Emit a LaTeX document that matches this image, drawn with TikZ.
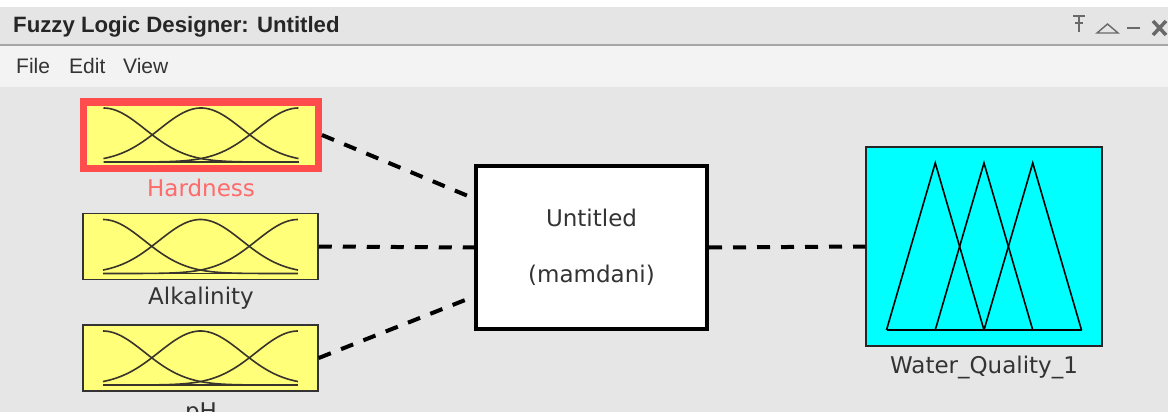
\documentclass[tikz,border=0pt]{standalone}
\usepackage{fontspec}
\setmainfont{DejaVu Sans}
\newfontfamily\uifont{Liberation Sans}
\usetikzlibrary{positioning}
\definecolor{barbg}{RGB}{229,229,229}
\definecolor{menubg}{RGB}{243,243,243}
\definecolor{panelbg}{RGB}{230,230,230}
\definecolor{mfyellow}{RGB}{255,255,122}
\definecolor{mfcyan}{RGB}{0,255,255}
\definecolor{selred}{RGB}{255,77,77}
\definecolor{sellab}{RGB}{255,106,106}
\definecolor{txtgray}{RGB}{51,51,51}
\definecolor{icongray}{RGB}{105,105,105}
\tikzset{
  inbox/.style={rectangle,fill=mfyellow,draw=black!80,line width=1.5pt,
    minimum width=235pt,minimum height=66pt,inner sep=0pt},
  selected/.style={draw=selred,line width=7pt},
  sysbox/.style={rectangle,fill=white,draw=black,line width=4pt,
    minimum width=231pt,minimum height=163pt,align=center,inner sep=0pt,
    font=\fontsize{23}{56}\selectfont,text=txtgray},
  outbox/.style={rectangle,fill=mfcyan,draw=black!85,line width=1.5pt,
    minimum width=236pt,minimum height=199pt,inner sep=0pt},
  varlab/.style={font=\fontsize{23}{27}\selectfont,text=txtgray,
    anchor=base,inner sep=0pt},
  menulab/.style={font=\uifont\fontsize{21}{25}\selectfont,text=txtgray,
    anchor=base west,inner sep=0pt},
  conn/.style={line width=4pt,dash pattern=on 13pt off 11pt},
  mf/.style={line width=1.6pt,draw=black!80!olive},
  icon/.style={draw=icongray,line width=2pt}
}
% three gaussian membership functions inside an input box
\newcommand{\drawgauss}[1]{%
  \begin{scope}[shift={(#1.center)}]
    \draw[mf] (-97.5,27) -- (97.5,27);
    \foreach \c in {0,1,2}
      \draw[mf] plot[domain=0:2,samples=60,smooth]
        ({97.5*\x-97.5},{27-54*exp(-((\x-\c)^2)/0.364)});
  \end{scope}}

\begin{document}
\begin{tikzpicture}[x=1pt,y=-1pt]
  \useasboundingbox (0,0) rectangle (1168,412);
  \clip (0,0) rectangle (1168,412);
  % window frame
  \fill[white] (0,0) rectangle (1168,7);
  \fill[barbg] (0,7) rectangle (1168,45);
  \fill[menubg] (0,45) rectangle (1168,87);
  \fill[panelbg] (0,87) rectangle (1168,412);
  \draw[black!35,line width=1.2pt] (0,45) -- (1168,45);
  \node[menulab,font=\uifont\bfseries\fontsize{22.2}{26}\selectfont,text=black!85]
    (title) at (13,33) {Fuzzy Logic Designer: Untitled};
  \node[menulab] (mfile) at (16,74) {File};
  \node[menulab] (medit) at (69,74) {Edit};
  \node[menulab] (mview) at (123,74) {View};
  % title bar buttons
  \draw[icon] (1073,16) -- (1085,16) (1075,23) -- (1083,23) (1079,16) -- (1079,32);
  \draw[icon,line width=1.4pt] (1097,33) -- (1107.5,24) -- (1118,33) -- cycle;
  \draw[icon] (1127,28) -- (1140,28);
  \draw[icon,line width=3.5pt] (1153,21) -- (1166,35) (1153,35) -- (1166,21);

  % inputs
  \node[inbox,selected] (hard) at (201,135) {};
  \node[inbox] (alk) at (200.5,246.5) {};
  \node[inbox] (ph) at (200.5,358) {};
  \drawgauss{hard}
  \drawgauss{alk}
  \drawgauss{ph}
  \node[varlab,text=sellab] (hardlab) at (201,196) {Hardness};
  \node[varlab] (alklab) at (201,304) {Alkalinity};
  \node[varlab] (phlab) at (201,419) {pH};

  % system and output
  \node[sysbox] (sys) at (591.5,247.5) {Untitled\\(mamdani)};
  \node[outbox] (wq) at (984,246.5) {};
  \begin{scope}[shift={(wq.center)}]
    \draw[mf,draw=black] (-97.5,83.5) -- (97.5,83.5);
    \foreach \k in {0,1,2}
      \draw[mf,draw=black] (-97.5+48.75*\k,83.5) -- (-48.75+48.75*\k,-83.5)
        -- (48.75*\k,83.5);
  \end{scope}
  \node[varlab] (wqlab) at (984,373) {Water\_Quality\_1};

  % connections
  \draw[conn] (hard.east) -- ([yshift=49pt]sys.west);
  \draw[conn] (alk.east) -- (sys.west);
  \draw[conn] (ph.east) -- ([yshift=-49pt]sys.west);
  \draw[conn] (sys.east) -- (wq.west);
\end{tikzpicture}
\end{document}
